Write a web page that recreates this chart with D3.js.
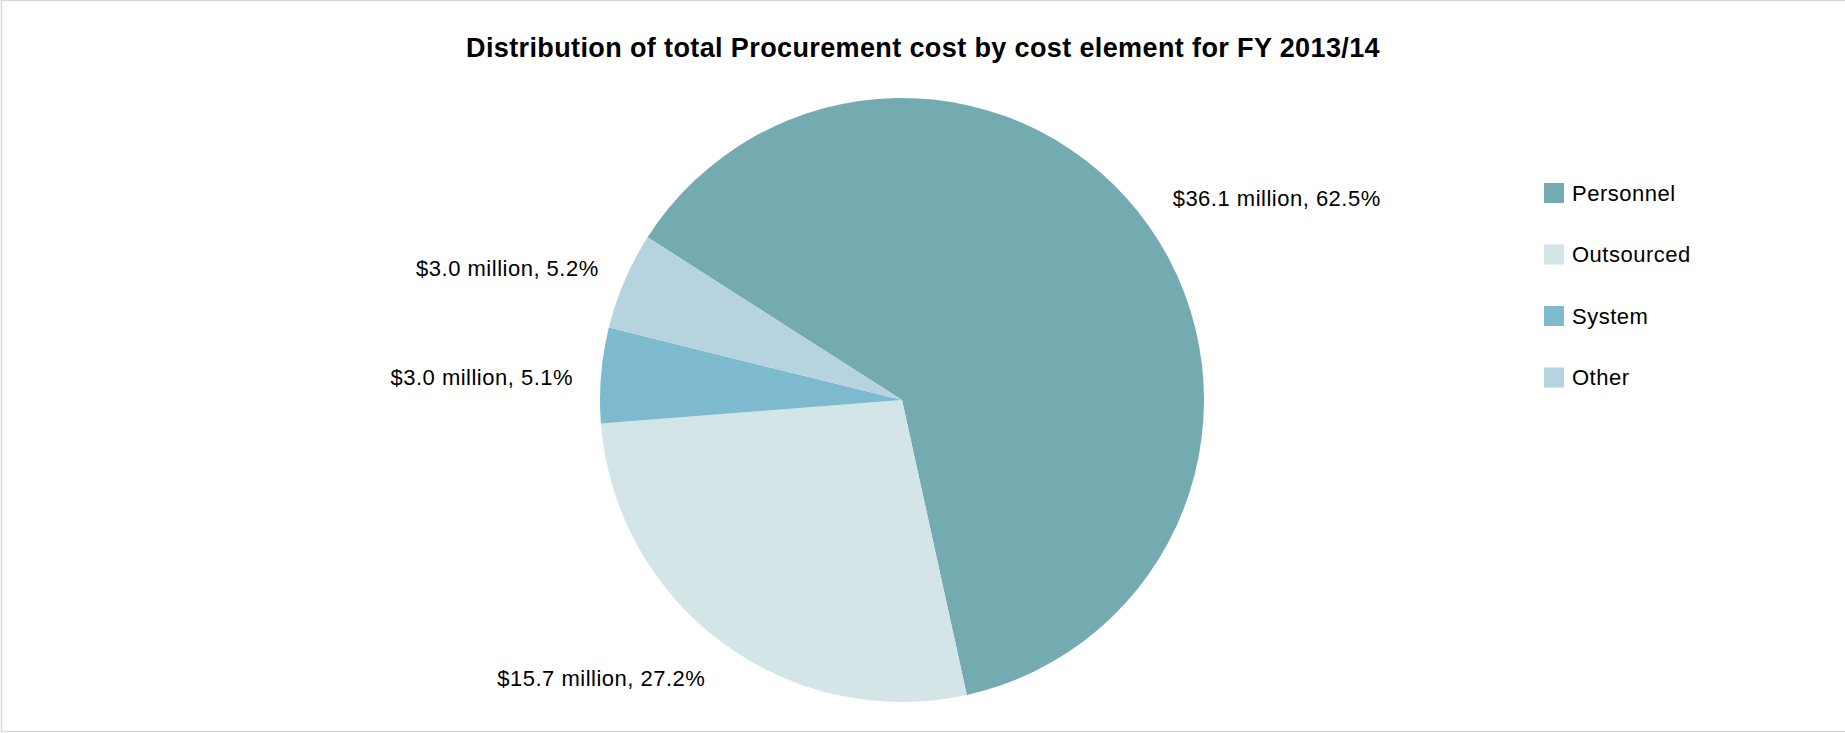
<!DOCTYPE html>
<html>
<head>
<meta charset="utf-8">
<script src="https://cdn.jsdelivr.net/npm/d3@7/dist/d3.min.js"></script>
<style>
  html, body { margin: 0; padding: 0; background: #fff; }
  svg { display: block; font-family: Arial, "Liberation Sans", sans-serif; }
</style>
</head>
<body>
<svg id="chart" width="1845" height="733"></svg>
<script>
// Procurement cost by element, FY 2013/14
const categories = ["Personnel", "Outsourced", "System", "Other"];
const amounts = [36.1, 15.7, 3.0, 3.0];          // $ million
const shares = [62.5, 27.2, 5.1, 5.2];           // % of total
const colors = ["#74abb0", "#d4e5e8", "#7ebace", "#b6d4df"];
const title = "Distribution of total Procurement cost by cost element for FY 2013/14";

const W = 1845, H = 733;
const cx = 902, cy = 400, R = 302;
const startDeg = -57.4;

const svg = d3.select("#chart");

// frame
svg.append("rect")
  .attr("x", 1.5).attr("y", 0.5)
  .attr("width", W + 10).attr("height", H - 2)
  .attr("fill", "none").attr("stroke", "#d9d9d9").attr("stroke-width", 1.5);

// title
svg.append("text")
  .attr("x", 923).attr("y", 57)
  .attr("text-anchor", "middle")
  .attr("font-size", 27).attr("font-weight", "bold")
  .attr("letter-spacing", 0.38)
  .attr("fill", "#000")
  .text(title);

const data = categories.map((c, i) => ({ name: c, amount: amounts[i], share: shares[i], color: colors[i] }));

const start = startDeg * Math.PI / 180;
const pie = d3.pie().sort(null).value(d => d.share)
  .startAngle(start).endAngle(start + 2 * Math.PI);
const arcs = pie(data);
const arc = d3.arc().innerRadius(0).outerRadius(R);

const g = svg.append("g").attr("transform", `translate(${cx},${cy})`);
g.selectAll("path.slice").data(arcs).join("path")
  .attr("class", "slice")
  .attr("d", arc)
  .attr("fill", d => d.data.color);

// outside labels: the text box touches a point just beyond the rim
const labelR = 330, fs = 22, ls = 0.5, boxH = 26;
svg.append("g").selectAll("text").data(arcs).join("text")
  .each(function (d) {
    const a = (d.startAngle + d.endAngle) / 2;
    const s = Math.sin(a), c = Math.cos(a);
    const px = cx + labelR * s, py = cy - labelR * c;
    let dy;
    if (c > 0.5) dy = -boxH / 2;
    else if (c < -0.5) dy = boxH / 2;
    else dy = 6 - 18 * c;
    d3.select(this)
      .attr("x", px)
      .attr("y", py + dy)
      .attr("dy", "0.35em")
      .attr("text-anchor", s >= 0 ? "start" : "end");
  })
  .attr("font-size", fs)
  .attr("letter-spacing", ls)
  .attr("fill", "#000")
  .text(d => `$${d3.format(".1f")(d.data.amount)} million, ${d3.format(".1f")(d.data.share)}%`);

// legend
const legend = svg.append("g").attr("transform", "translate(1544,183)");
const item = legend.selectAll("g").data(data).join("g")
  .attr("transform", (d, i) => `translate(0,${i * 61.5})`);
item.append("rect").attr("width", 20).attr("height", 20).attr("fill", d => d.color);
item.append("text")
  .attr("x", 28).attr("y", 10).attr("dy", "0.35em")
  .attr("font-size", fs).attr("letter-spacing", ls).attr("fill", "#000")
  .text(d => d.name);
</script>
</body>
</html>
